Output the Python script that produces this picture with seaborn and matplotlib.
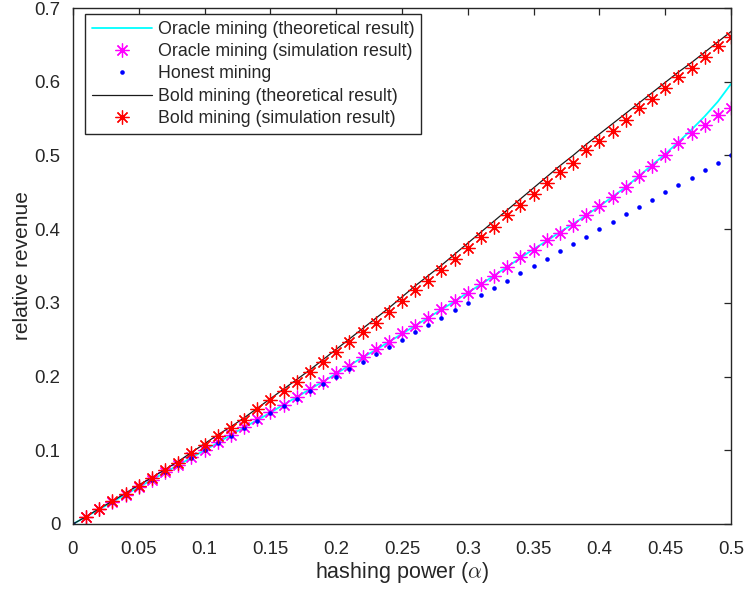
import numpy as np
import pandas as pd
import matplotlib
matplotlib.use("Agg")
import matplotlib.pyplot as plt
import seaborn as sns

# ---------------- data ----------------
alpha_all = [0.00, 0.01, 0.02, 0.03, 0.04, 0.05, 0.06, 0.07, 0.08, 0.09,
             0.10, 0.11, 0.12, 0.13, 0.14, 0.15, 0.16, 0.17, 0.18, 0.19,
             0.20, 0.21, 0.22, 0.23, 0.24, 0.25, 0.26, 0.27, 0.28, 0.29,
             0.30, 0.31, 0.32, 0.33, 0.34, 0.35, 0.36, 0.37, 0.38, 0.39,
             0.40, 0.41, 0.42, 0.43, 0.44, 0.45, 0.46, 0.47, 0.48, 0.49, 0.50]
alpha_sim = alpha_all[1:]

honest = [0.00, 0.01, 0.02, 0.03, 0.04, 0.05, 0.06, 0.07, 0.08, 0.09,
          0.10, 0.11, 0.12, 0.13, 0.14, 0.15, 0.16, 0.17, 0.18, 0.19,
          0.20, 0.21, 0.22, 0.23, 0.24, 0.25, 0.26, 0.27, 0.28, 0.29,
          0.30, 0.31, 0.32, 0.33, 0.34, 0.35, 0.36, 0.37, 0.38, 0.39,
          0.40, 0.41, 0.42, 0.43, 0.44, 0.45, 0.46, 0.47, 0.48, 0.49, 0.50]

oracle_theory = [0.000, 0.010, 0.020, 0.030, 0.040, 0.050, 0.060, 0.070, 0.080, 0.090,
                 0.100, 0.110, 0.121, 0.131, 0.141, 0.151, 0.162, 0.172, 0.183, 0.193,
                 0.204, 0.215, 0.226, 0.236, 0.247, 0.258, 0.269, 0.280, 0.291, 0.302,
                 0.314, 0.325, 0.337, 0.349, 0.361, 0.373, 0.384, 0.396, 0.407, 0.419,
                 0.431, 0.444, 0.457, 0.472, 0.487, 0.502, 0.518, 0.535, 0.553, 0.573, 0.597]

oracle_sim = [0.010, 0.020, 0.030, 0.040, 0.050, 0.060, 0.070, 0.080, 0.091,
              0.101, 0.111, 0.121, 0.132, 0.142, 0.152, 0.162, 0.172, 0.183, 0.193,
              0.205, 0.215, 0.227, 0.237, 0.247, 0.259, 0.269, 0.280, 0.291, 0.302,
              0.314, 0.325, 0.337, 0.348, 0.362, 0.372, 0.385, 0.395, 0.406, 0.419,
              0.431, 0.443, 0.457, 0.472, 0.486, 0.501, 0.517, 0.530, 0.541, 0.555, 0.565]

bold_theory = [0.000, 0.010, 0.021, 0.031, 0.042, 0.053, 0.063, 0.074, 0.085, 0.097,
               0.109, 0.121, 0.132, 0.144, 0.157, 0.170, 0.183, 0.196, 0.209, 0.223,
               0.237, 0.251, 0.265, 0.279, 0.293, 0.308, 0.323, 0.337, 0.351, 0.366,
               0.381, 0.396, 0.411, 0.426, 0.441, 0.456, 0.471, 0.486, 0.500, 0.515,
               0.529, 0.543, 0.557, 0.571, 0.585, 0.599, 0.613, 0.626, 0.640, 0.654, 0.668]

bold_sim = [0.010, 0.021, 0.031, 0.041, 0.052, 0.062, 0.073, 0.083, 0.096,
            0.107, 0.119, 0.130, 0.141, 0.156, 0.168, 0.180, 0.193, 0.206, 0.220,
            0.233, 0.247, 0.260, 0.273, 0.287, 0.302, 0.317, 0.330, 0.344, 0.359,
            0.374, 0.390, 0.403, 0.419, 0.433, 0.448, 0.462, 0.478, 0.490, 0.507,
            0.519, 0.533, 0.548, 0.564, 0.577, 0.592, 0.607, 0.619, 0.634, 0.649, 0.661]

x_ticks = [0, 0.05, 0.1, 0.15, 0.2, 0.25, 0.3, 0.35, 0.4, 0.45, 0.5]
x_tick_labels = ["0", "0.05", "0.1", "0.15", "0.2", "0.25", "0.3", "0.35", "0.4", "0.45", "0.5"]
y_ticks = [0, 0.1, 0.2, 0.3, 0.4, 0.5, 0.6, 0.7]
y_tick_labels = ["0", "0.1", "0.2", "0.3", "0.4", "0.5", "0.6", "0.7"]

labels = ["Oracle mining (theoretical result)", "Oracle mining (simulation result)",
          "Honest mining", "Bold mining (theoretical result)", "Bold mining (simulation result)"]

# ---------------- style ----------------
sns.set_style("white")
plt.rcParams['font.family'] = ['Liberation Sans', 'DejaVu Sans']
plt.rcParams['mathtext.fontset'] = 'cm'
dark = '#262626'

fig = plt.figure(figsize=(7.45, 5.93), dpi=100)
ax = fig.add_axes([73 / 745, 1 - 524 / 593, (731 - 73) / 745, (524 - 8) / 593])

ast = (8, 2, 0)

sns.lineplot(x=alpha_all, y=oracle_theory, ax=ax, color='#00FFFF', lw=1.3,
             label=labels[0], sort=False)
sns.lineplot(x=alpha_sim, y=oracle_sim, ax=ax, color='#FF00FF', ls='', marker=ast,
             markersize=10, markeredgewidth=0.9, markeredgecolor='#FF00FF',
             label=labels[1], sort=False)
sns.lineplot(x=alpha_all, y=honest, ax=ax, color='#0000FF', ls='', marker='o',
             markersize=3.3, markeredgewidth=0, markeredgecolor='#0000FF',
             label=labels[2], sort=False)
sns.lineplot(x=alpha_all, y=bold_theory, ax=ax, color='#1a1a1a', lw=0.9,
             label=labels[3], sort=False)
sns.lineplot(x=alpha_sim, y=bold_sim, ax=ax, color='#FF0000', ls='', marker=ast,
             markersize=10, markeredgewidth=0.9, markeredgecolor='#FF0000',
             label=labels[4], sort=False)

ax.set_xlim(0, 0.5)
ax.set_ylim(0, 0.7)
ax.set_xticks(x_ticks)
ax.set_xticklabels(x_tick_labels)
ax.set_yticks(y_ticks)
ax.set_yticklabels(y_tick_labels)
ax.tick_params(direction='in', length=4.7, width=0.9, colors=dark, labelsize=13.4,
               top=True, right=True)
ax.tick_params(axis='x', pad=12)
ax.tick_params(axis='y', pad=9)
for s in ax.spines.values():
    s.set_color(dark)
    s.set_linewidth(1.0)
    s.set_visible(True)

ax.set_xlabel(r"hashing power ($\alpha$)", fontsize=15.5, color=dark, labelpad=2)
ax.set_ylabel("relative revenue", fontsize=15, color=dark, labelpad=2)

leg = ax.legend(loc='upper left', bbox_to_anchor=(12 / 658, 1 - 6 / 516), fontsize=12.8,
                frameon=True, fancybox=False, edgecolor=dark, framealpha=1,
                handlelength=3.4, handletextpad=0.3, labelspacing=0.3,
                borderpad=0.38, borderaxespad=0)
leg.get_frame().set_linewidth(1.0)
for t in leg.get_texts():
    t.set_color(dark)

fig.savefig("out.png", dpi=100)
